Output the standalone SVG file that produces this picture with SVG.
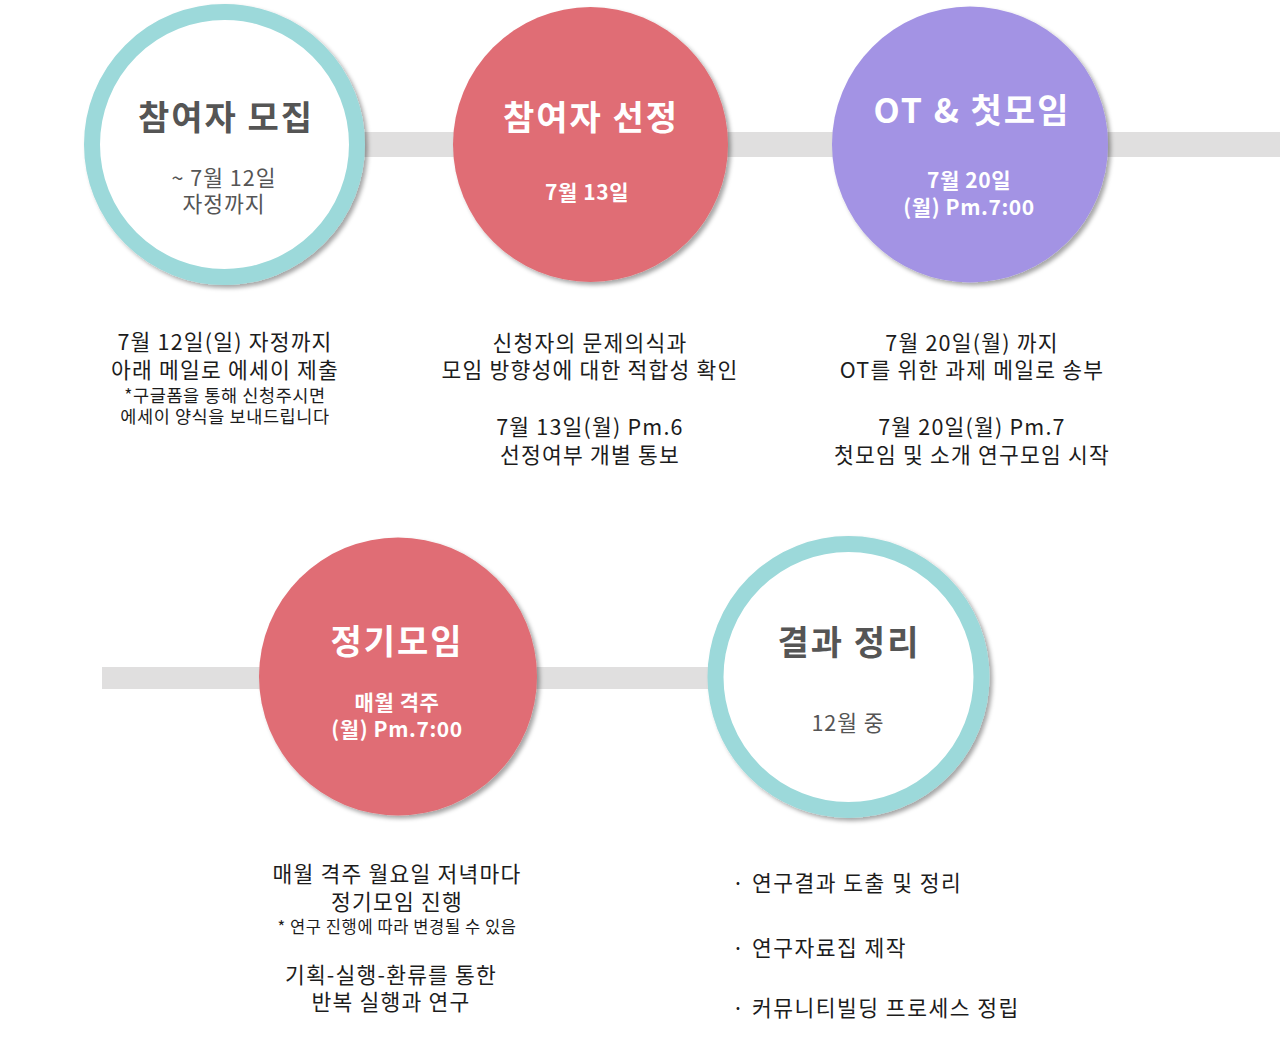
<svg xmlns="http://www.w3.org/2000/svg" width="1280" height="1038" viewBox="0 0 1280 1038">
<defs>
<filter id="sh" x="-10%" y="-10%" width="125%" height="125%">
<feDropShadow dx="3" dy="3" stdDeviation="2.2" flood-color="#000" flood-opacity="0.35"/>
</filter>
<style>
text{font-family:"Noto Sans CJK KR","Malgun Gothic",sans-serif;}
.title{font-size:34px;font-weight:bold;text-anchor:middle;letter-spacing:2px;}
.sub{font-size:21.5px;text-anchor:middle;letter-spacing:1px;}
.subb{font-size:21px;font-weight:bold;text-anchor:middle;fill:#fff;letter-spacing:0.6px;}
.w{fill:#fff;}
.g{fill:#555;}
.ring{fill:#fff;stroke:#9cd9da;stroke-width:16;}
.red{fill:#e06d74;}
.pur{fill:#a393e4;}
.desc{font-size:21.5px;fill:#1c1c1c;text-anchor:middle;letter-spacing:1.2px;}
.small{font-size:17.5px;fill:#1c1c1c;text-anchor:middle;letter-spacing:0.6px;}
.list{font-size:21.5px;fill:#1c1c1c;letter-spacing:1.5px;}
.bar{fill:#e0dfdf;}
</style>
</defs>
<rect width="1280" height="1038" fill="#fff"/>
<g id="connectors">
<rect class="bar" x="225" y="132" width="1055" height="25"/>
<rect class="bar" x="102" y="667" width="746" height="22"/>
</g>
<g id="node1">
<circle class="ring" cx="224.5" cy="144.5" r="132.5" filter="url(#sh)"/>
<text class="title g" x="226" y="130">참여자 모집</text>
<text class="sub g" x="224" y="186">~ 7월 12일</text>
<text class="sub g" x="224" y="212">자정까지</text>
</g>
<g id="node2">
<circle class="red" cx="590.5" cy="144.5" r="137.5" filter="url(#sh)"/>
<text class="title w" x="591" y="130">참여자 선정</text>
<text class="subb" x="587" y="200">7월 13일</text>
</g>
<g id="node3">
<circle class="pur" cx="970" cy="144.5" r="138" filter="url(#sh)"/>
<text class="title w" x="972" y="123">OT &amp; 첫모임</text>
<text class="subb" x="969" y="188">7월 20일</text>
<text class="subb" x="969" y="215">(월) Pm.7:00</text>
</g>
<g id="node4">
<circle class="red" cx="398" cy="676.5" r="139" filter="url(#sh)"/>
<text class="title w" x="397" y="654">정기모임</text>
<text class="subb" x="397" y="710">매월 격주</text>
<text class="subb" x="397" y="737">(월) Pm.7:00</text>
</g>
<g id="node5">
<circle class="ring" cx="848.5" cy="677" r="133" filter="url(#sh)"/>
<text class="title g" x="849" y="655">결과 정리</text>
<text class="sub g" x="848" y="731">12월 중</text>
</g>
<g id="desc1">
<text class="desc" x="225" y="350">7월 12일(일) 자정까지</text>
<text class="desc" x="225" y="378">아래 메일로 에세이 제출</text>
<text class="small" x="225" y="402">*구글폼을 통해 신청주시면</text>
<text class="small" x="225" y="423">에세이 양식을 보내드립니다</text>
</g>
<g id="desc2">
<text class="desc" x="590" y="351">신청자의 문제의식과</text>
<text class="desc" x="590" y="378">모임 방향성에 대한 적합성 확인</text>
<text class="desc" x="590" y="435">7월 13일(월) Pm.6</text>
<text class="desc" x="590" y="463">선정여부 개별 통보</text>
</g>
<g id="desc3">
<text class="desc" x="972" y="351">7월 20일(월) 까지</text>
<text class="desc" x="972" y="378">OT를 위한 과제 메일로 송부</text>
<text class="desc" x="972" y="435">7월 20일(월) Pm.7</text>
<text class="desc" x="972" y="463">첫모임 및 소개 연구모임 시작</text>
</g>
<g id="desc4">
<text class="desc" x="397" y="882">매월 격주 월요일 저녁마다</text>
<text class="desc" x="397" y="910">정기모임 진행</text>
<text class="small" x="397" y="933" style="font-size:16.5px">* 연구 진행에 따라 변경될 수 있음</text>
<text class="desc" x="391" y="983">기획-실행-환류를 통한</text>
<text class="desc" x="391" y="1010">반복 실행과 연구</text>
</g>
<g id="desc5">
<text class="list" x="732" y="891">· 연구결과 도출 및 정리</text>
<text class="list" x="732" y="956">· 연구자료집 제작</text>
<text class="list" x="732" y="1016">· 커뮤니티빌딩 프로세스 정립</text>
</g>
</svg>
